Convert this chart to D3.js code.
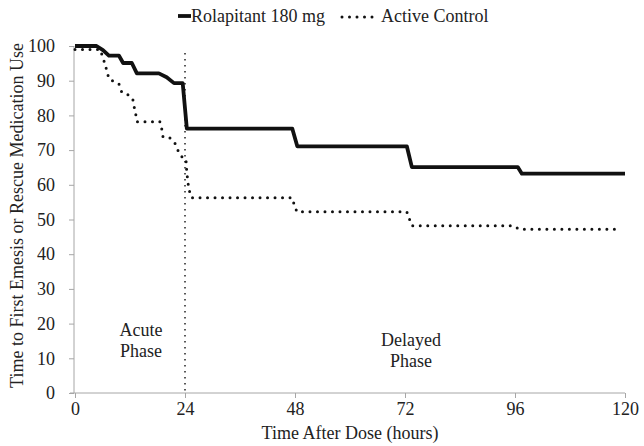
<!DOCTYPE html>
<html lang="en">
<head>
    <meta charset="UTF-8">
    <title>Time to First Emesis or Rescue Medication Use</title>
    <style>
        body { margin: 0; background: #fff; }
    </style>
    <script src="https://d3js.org/d3.v7.min.js"></script>
</head>
<body>
    <script>
        // data: [hour, percent]
        const rolapitant = [
            [0, 100], [4.7, 100], [6.1, 98.8], [7.4, 97.2], [9.6, 97.2], [10.5, 95.1], [12.4, 95.1],
            [13.5, 92.1], [18.3, 92.1], [20, 91], [21.6, 89.3], [23.5, 89.3], [24.4, 76.2],
            [47.4, 76.2], [48.5, 71.1], [72.4, 71.1], [73.5, 65.1], [96.6, 65.1], [97.5, 63.2], [120, 63.2]
        ];
        const activeControl = [
            [0, 99], [5.5, 99], [6.5, 95], [7, 92.6], [7.4, 90.5], [9.6, 89], [10.2, 86.7], [11.6, 85.9],
            [12.6, 84.7], [12.9, 82.5], [13.3, 80], [13.5, 78.2], [18.5, 78.2], [19, 75.7], [19.2, 73.8],
            [20.7, 73.5], [21.8, 72], [22.3, 70.3], [23.3, 68.1], [24.2, 67.5], [24.4, 63.4], [24.6, 61.4],
            [24.8, 59], [25.4, 56.3], [47.3, 56.3], [48.4, 52.2], [72.4, 52.2], [73.5, 48.2],
            [95.6, 48.2], [97, 47.2], [119.3, 47.2]
        ];
        const xTicks = [0, 24, 48, 72, 96, 120];
        const yTicks = [0, 10, 20, 30, 40, 50, 60, 70, 80, 90, 100];
        const seriesNames = ["Rolapitant 180 mg", "Active Control"];

        const width = 644, height = 446;
        const margin = { top: 46, right: 19, bottom: 53, left: 75 };
        const fontFamily = "Liberation Serif";
        const fontSize = 18;

        const svg = d3.select("body").append("svg")
            .attr("width", width)
            .attr("height", height)
            .attr("font-family", fontFamily)
            .attr("font-size", fontSize);

        const x = d3.scaleLinear().domain([0, 120]).range([margin.left, width - margin.right]);
        const y = d3.scaleLinear().domain([0, 100]).range([height - margin.bottom, margin.top]);

        // axes
        const xAxis = svg.append("g")
            .attr("transform", `translate(0,${y(0)})`)
            .call(d3.axisBottom(x).tickValues(xTicks).tickSize(5).tickPadding(4).tickSizeOuter(0))
            .attr("font-family", fontFamily)
            .attr("font-size", fontSize);
        xAxis.select(".domain").attr("d", `M${x(0) - 5},0H${x(120)}`);

        const yAxis = svg.append("g")
            .attr("transform", `translate(${x(0) - 1},0)`)
            .call(d3.axisLeft(y).tickValues(yTicks).tickSize(5).tickPadding(14).tickSizeOuter(0))
            .attr("font-family", fontFamily)
            .attr("font-size", fontSize);
        yAxis.select(".domain").attr("d", `M0,${y(100)}V${y(0)}`);

        svg.selectAll(".domain, .tick line").attr("stroke", "#a6a6a6");

        // axis titles
        svg.append("text")
            .attr("x", (x(0) + x(120)) / 2)
            .attr("y", 439)
            .attr("text-anchor", "middle")
            .text("Time After Dose (hours)");

        svg.append("text")
            .attr("transform", `translate(23,${(y(0) + y(100)) / 2 - 4}) rotate(-90)`)
            .attr("text-anchor", "middle")
            .text("Time to First Emesis or Rescue Medication Use");

        // phase divider at 24 h
        svg.append("line")
            .attr("x1", x(24)).attr("x2", x(24))
            .attr("y1", y(98)).attr("y2", y(0))
            .attr("stroke", "#222")
            .attr("stroke-width", 1.5)
            .attr("stroke-dasharray", "1.5,4.5");

        svg.append("text")
            .attr("text-anchor", "middle")
            .selectAll("tspan")
            .data(["Acute", "Phase"])
            .join("tspan")
            .attr("x", 141)
            .attr("y", (d, i) => 336 + i * 21)
            .text(d => d);

        svg.append("text")
            .attr("text-anchor", "middle")
            .selectAll("tspan")
            .data(["Delayed", "Phase"])
            .join("tspan")
            .attr("x", 411)
            .attr("y", (d, i) => 346 + i * 21)
            .text(d => d);

        // curves
        const line = d3.line().x(d => x(d[0])).y(d => y(d[1]));

        svg.append("path")
            .datum(activeControl)
            .attr("fill", "none")
            .attr("stroke", "#111")
            .attr("stroke-width", 3)
            .attr("stroke-linecap", "round")
            .attr("stroke-dasharray", "0,7.5")
            .attr("d", line);

        svg.append("path")
            .datum(rolapitant)
            .attr("fill", "none")
            .attr("stroke", "#111")
            .attr("stroke-width", 3.8)
            .attr("stroke-linejoin", "round")
            .attr("d", line);

        // legend
        const legend = svg.append("g");
        legend.append("line")
            .attr("x1", 178).attr("x2", 191).attr("y1", 16).attr("y2", 16)
            .attr("stroke", "#111").attr("stroke-width", 3.8);
        legend.append("text")
            .attr("x", 191).attr("y", 22)
            .text(seriesNames[0]);
        legend.append("line")
            .attr("x1", 342).attr("x2", 378).attr("y1", 17).attr("y2", 17)
            .attr("stroke", "#111").attr("stroke-width", 3)
            .attr("stroke-linecap", "round")
            .attr("stroke-dasharray", "0,7.5");
        legend.append("text")
            .attr("x", 381).attr("y", 22)
            .text(seriesNames[1]);

        svg.selectAll("text").attr("fill", "#222");
    </script>
</body>
</html>
